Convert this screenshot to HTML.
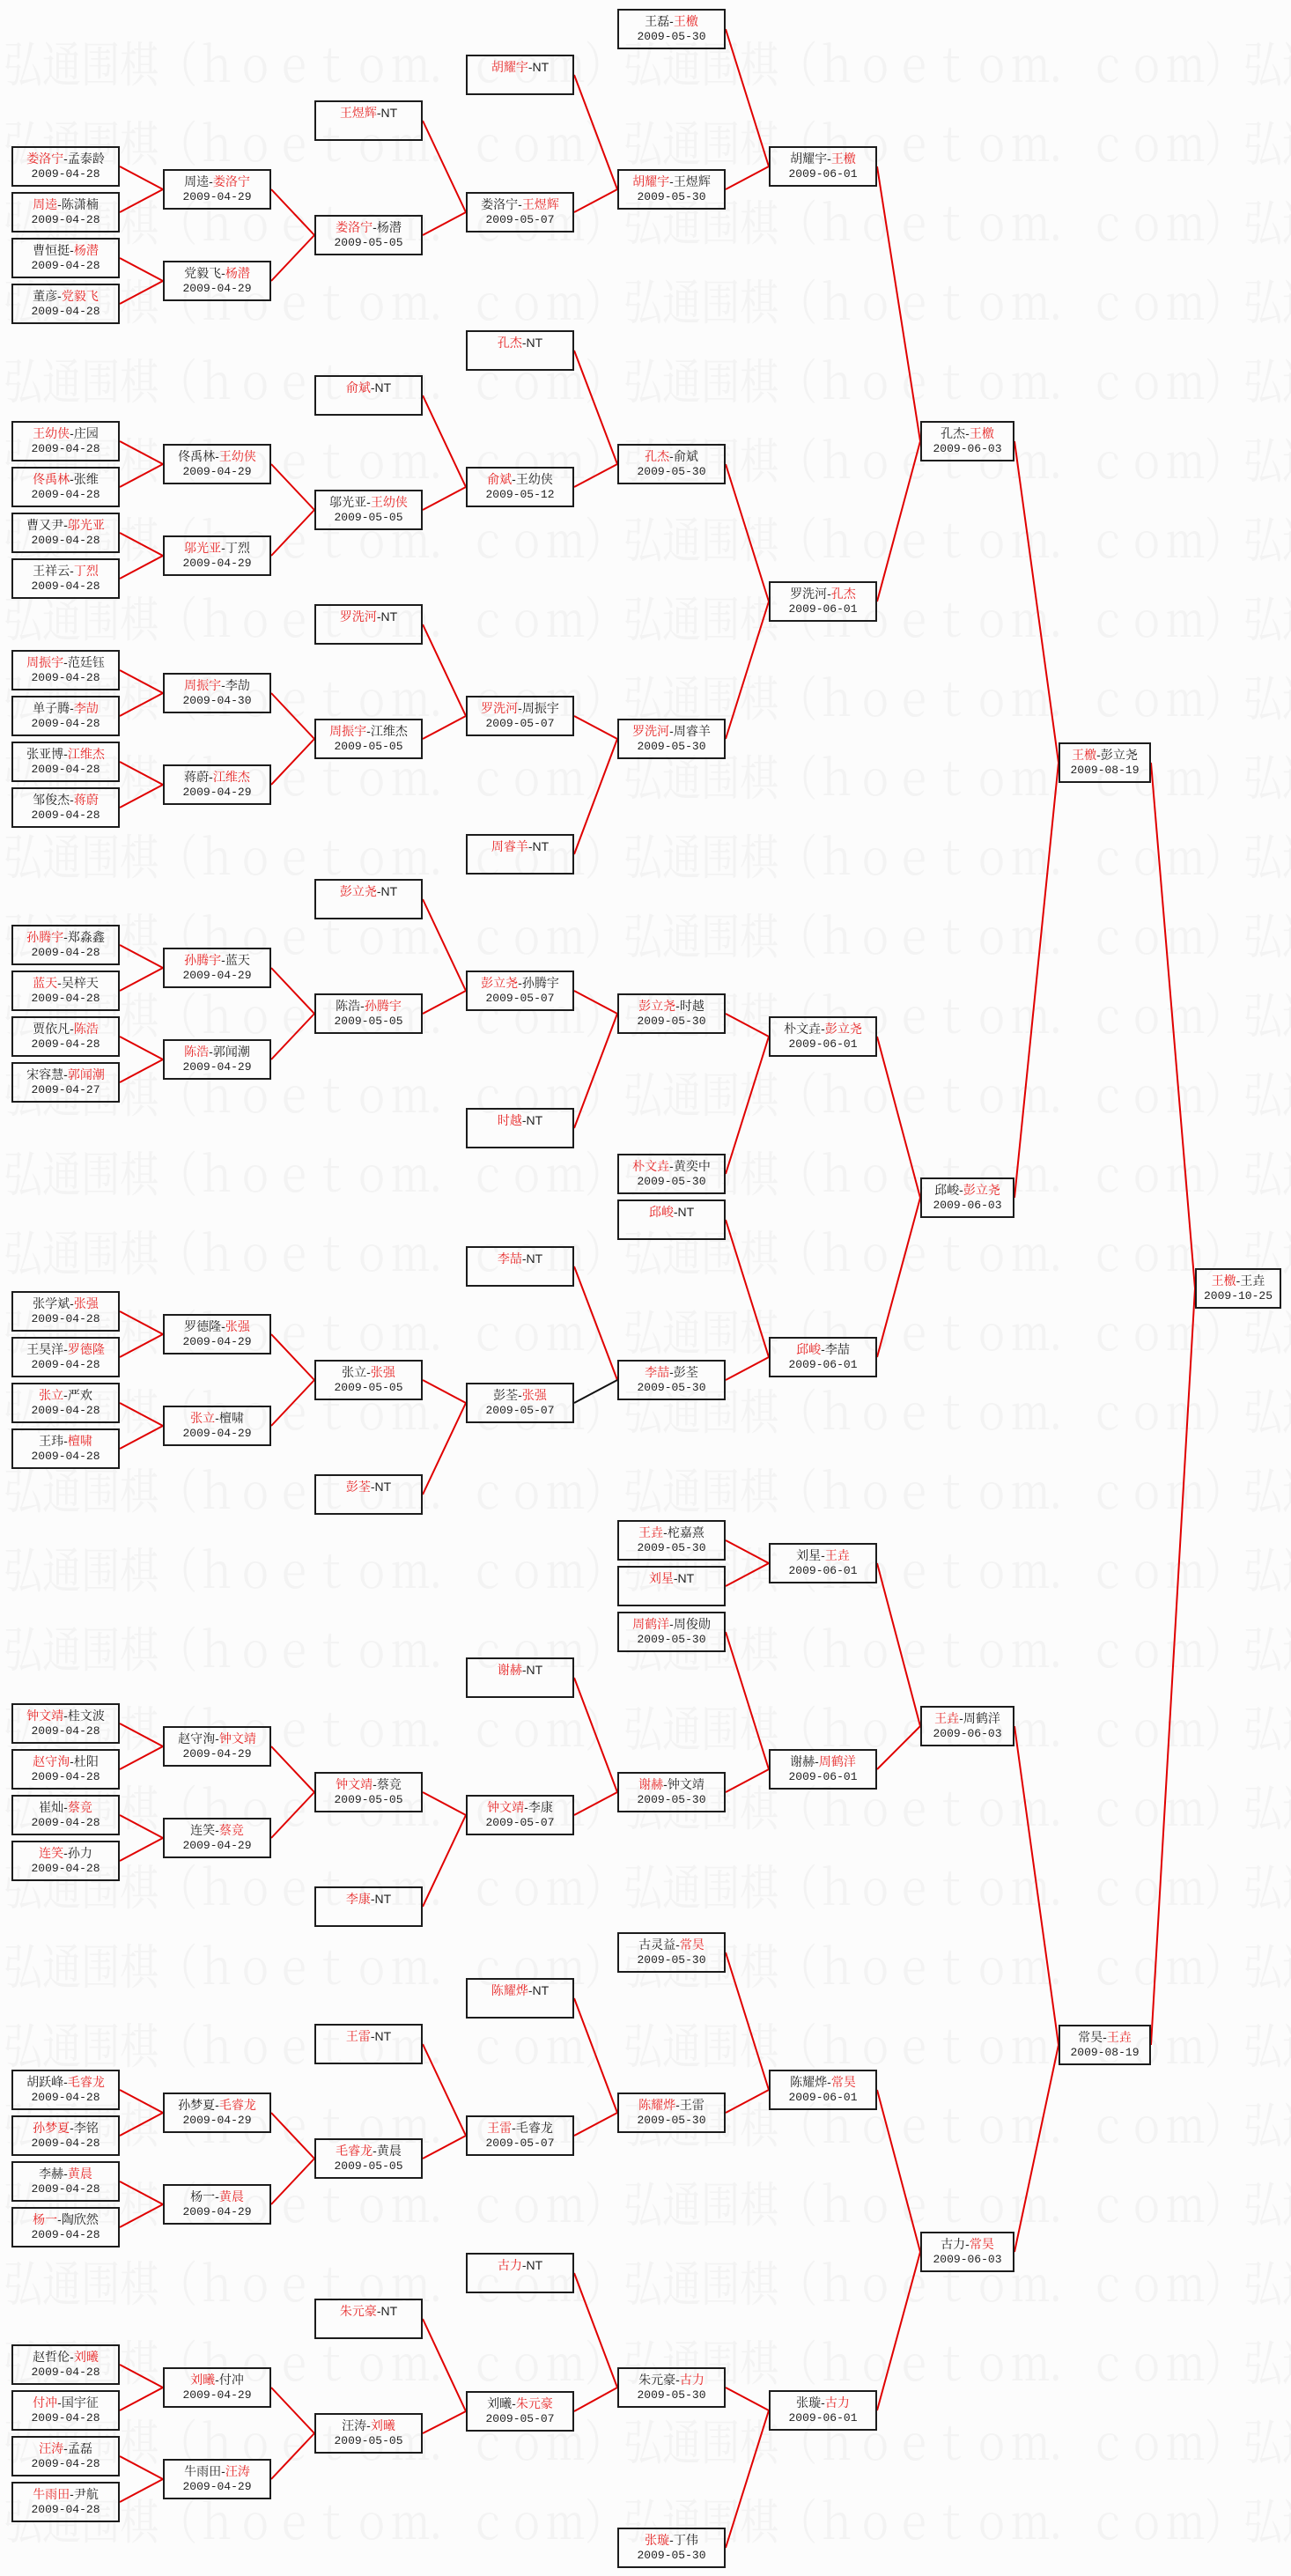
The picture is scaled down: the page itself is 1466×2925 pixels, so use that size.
<!DOCTYPE html>
<html><head><meta charset="utf-8">
<style>
html,body{margin:0;padding:0}
body{width:1466px;height:2925px;position:relative;background:#fcfcfc;overflow:hidden}
.wm{position:absolute;left:4px;white-space:nowrap;font:44px/50px "Noto Serif CJK SC",serif;color:#f3f3f3;transform:scaleY(1.25);transform-origin:0 0;letter-spacing:0px}
.b{position:absolute;width:119px;height:39px;padding-top:3px;border:2px solid #1c1c1c;text-align:center;font:14px/18px "Liberation Sans","Noto Serif CJK SC",serif;color:#222;white-space:nowrap}
.b div{font:13px/18px "Liberation Mono",monospace}
.c7{width:103px}.c8{width:101px}.c9{width:94px}
em{font-style:normal;color:#e62424}
svg{position:absolute;left:0;top:0}
</style></head><body>
<div class="wm" style="top:38px">弘通围棋（ｈｏｅｔｏｍ．ｃｏｍ）弘通围棋（ｈｏｅｔｏｍ．ｃｏｍ）弘通围棋（ｈｏｅｔｏｍ．ｃｏｍ）</div>
<div class="wm" style="top:128px">弘通围棋（ｈｏｅｔｏｍ．ｃｏｍ）弘通围棋（ｈｏｅｔｏｍ．ｃｏｍ）弘通围棋（ｈｏｅｔｏｍ．ｃｏｍ）</div>
<div class="wm" style="top:218px">弘通围棋（ｈｏｅｔｏｍ．ｃｏｍ）弘通围棋（ｈｏｅｔｏｍ．ｃｏｍ）弘通围棋（ｈｏｅｔｏｍ．ｃｏｍ）</div>
<div class="wm" style="top:308px">弘通围棋（ｈｏｅｔｏｍ．ｃｏｍ）弘通围棋（ｈｏｅｔｏｍ．ｃｏｍ）弘通围棋（ｈｏｅｔｏｍ．ｃｏｍ）</div>
<div class="wm" style="top:398px">弘通围棋（ｈｏｅｔｏｍ．ｃｏｍ）弘通围棋（ｈｏｅｔｏｍ．ｃｏｍ）弘通围棋（ｈｏｅｔｏｍ．ｃｏｍ）</div>
<div class="wm" style="top:488px">弘通围棋（ｈｏｅｔｏｍ．ｃｏｍ）弘通围棋（ｈｏｅｔｏｍ．ｃｏｍ）弘通围棋（ｈｏｅｔｏｍ．ｃｏｍ）</div>
<div class="wm" style="top:578px">弘通围棋（ｈｏｅｔｏｍ．ｃｏｍ）弘通围棋（ｈｏｅｔｏｍ．ｃｏｍ）弘通围棋（ｈｏｅｔｏｍ．ｃｏｍ）</div>
<div class="wm" style="top:668px">弘通围棋（ｈｏｅｔｏｍ．ｃｏｍ）弘通围棋（ｈｏｅｔｏｍ．ｃｏｍ）弘通围棋（ｈｏｅｔｏｍ．ｃｏｍ）</div>
<div class="wm" style="top:758px">弘通围棋（ｈｏｅｔｏｍ．ｃｏｍ）弘通围棋（ｈｏｅｔｏｍ．ｃｏｍ）弘通围棋（ｈｏｅｔｏｍ．ｃｏｍ）</div>
<div class="wm" style="top:848px">弘通围棋（ｈｏｅｔｏｍ．ｃｏｍ）弘通围棋（ｈｏｅｔｏｍ．ｃｏｍ）弘通围棋（ｈｏｅｔｏｍ．ｃｏｍ）</div>
<div class="wm" style="top:938px">弘通围棋（ｈｏｅｔｏｍ．ｃｏｍ）弘通围棋（ｈｏｅｔｏｍ．ｃｏｍ）弘通围棋（ｈｏｅｔｏｍ．ｃｏｍ）</div>
<div class="wm" style="top:1028px">弘通围棋（ｈｏｅｔｏｍ．ｃｏｍ）弘通围棋（ｈｏｅｔｏｍ．ｃｏｍ）弘通围棋（ｈｏｅｔｏｍ．ｃｏｍ）</div>
<div class="wm" style="top:1118px">弘通围棋（ｈｏｅｔｏｍ．ｃｏｍ）弘通围棋（ｈｏｅｔｏｍ．ｃｏｍ）弘通围棋（ｈｏｅｔｏｍ．ｃｏｍ）</div>
<div class="wm" style="top:1208px">弘通围棋（ｈｏｅｔｏｍ．ｃｏｍ）弘通围棋（ｈｏｅｔｏｍ．ｃｏｍ）弘通围棋（ｈｏｅｔｏｍ．ｃｏｍ）</div>
<div class="wm" style="top:1298px">弘通围棋（ｈｏｅｔｏｍ．ｃｏｍ）弘通围棋（ｈｏｅｔｏｍ．ｃｏｍ）弘通围棋（ｈｏｅｔｏｍ．ｃｏｍ）</div>
<div class="wm" style="top:1388px">弘通围棋（ｈｏｅｔｏｍ．ｃｏｍ）弘通围棋（ｈｏｅｔｏｍ．ｃｏｍ）弘通围棋（ｈｏｅｔｏｍ．ｃｏｍ）</div>
<div class="wm" style="top:1478px">弘通围棋（ｈｏｅｔｏｍ．ｃｏｍ）弘通围棋（ｈｏｅｔｏｍ．ｃｏｍ）弘通围棋（ｈｏｅｔｏｍ．ｃｏｍ）</div>
<div class="wm" style="top:1568px">弘通围棋（ｈｏｅｔｏｍ．ｃｏｍ）弘通围棋（ｈｏｅｔｏｍ．ｃｏｍ）弘通围棋（ｈｏｅｔｏｍ．ｃｏｍ）</div>
<div class="wm" style="top:1658px">弘通围棋（ｈｏｅｔｏｍ．ｃｏｍ）弘通围棋（ｈｏｅｔｏｍ．ｃｏｍ）弘通围棋（ｈｏｅｔｏｍ．ｃｏｍ）</div>
<div class="wm" style="top:1748px">弘通围棋（ｈｏｅｔｏｍ．ｃｏｍ）弘通围棋（ｈｏｅｔｏｍ．ｃｏｍ）弘通围棋（ｈｏｅｔｏｍ．ｃｏｍ）</div>
<div class="wm" style="top:1838px">弘通围棋（ｈｏｅｔｏｍ．ｃｏｍ）弘通围棋（ｈｏｅｔｏｍ．ｃｏｍ）弘通围棋（ｈｏｅｔｏｍ．ｃｏｍ）</div>
<div class="wm" style="top:1928px">弘通围棋（ｈｏｅｔｏｍ．ｃｏｍ）弘通围棋（ｈｏｅｔｏｍ．ｃｏｍ）弘通围棋（ｈｏｅｔｏｍ．ｃｏｍ）</div>
<div class="wm" style="top:2018px">弘通围棋（ｈｏｅｔｏｍ．ｃｏｍ）弘通围棋（ｈｏｅｔｏｍ．ｃｏｍ）弘通围棋（ｈｏｅｔｏｍ．ｃｏｍ）</div>
<div class="wm" style="top:2108px">弘通围棋（ｈｏｅｔｏｍ．ｃｏｍ）弘通围棋（ｈｏｅｔｏｍ．ｃｏｍ）弘通围棋（ｈｏｅｔｏｍ．ｃｏｍ）</div>
<div class="wm" style="top:2198px">弘通围棋（ｈｏｅｔｏｍ．ｃｏｍ）弘通围棋（ｈｏｅｔｏｍ．ｃｏｍ）弘通围棋（ｈｏｅｔｏｍ．ｃｏｍ）</div>
<div class="wm" style="top:2288px">弘通围棋（ｈｏｅｔｏｍ．ｃｏｍ）弘通围棋（ｈｏｅｔｏｍ．ｃｏｍ）弘通围棋（ｈｏｅｔｏｍ．ｃｏｍ）</div>
<div class="wm" style="top:2378px">弘通围棋（ｈｏｅｔｏｍ．ｃｏｍ）弘通围棋（ｈｏｅｔｏｍ．ｃｏｍ）弘通围棋（ｈｏｅｔｏｍ．ｃｏｍ）</div>
<div class="wm" style="top:2468px">弘通围棋（ｈｏｅｔｏｍ．ｃｏｍ）弘通围棋（ｈｏｅｔｏｍ．ｃｏｍ）弘通围棋（ｈｏｅｔｏｍ．ｃｏｍ）</div>
<div class="wm" style="top:2558px">弘通围棋（ｈｏｅｔｏｍ．ｃｏｍ）弘通围棋（ｈｏｅｔｏｍ．ｃｏｍ）弘通围棋（ｈｏｅｔｏｍ．ｃｏｍ）</div>
<div class="wm" style="top:2648px">弘通围棋（ｈｏｅｔｏｍ．ｃｏｍ）弘通围棋（ｈｏｅｔｏｍ．ｃｏｍ）弘通围棋（ｈｏｅｔｏｍ．ｃｏｍ）</div>
<div class="wm" style="top:2738px">弘通围棋（ｈｏｅｔｏｍ．ｃｏｍ）弘通围棋（ｈｏｅｔｏｍ．ｃｏｍ）弘通围棋（ｈｏｅｔｏｍ．ｃｏｍ）</div>
<div class="wm" style="top:2828px">弘通围棋（ｈｏｅｔｏｍ．ｃｏｍ）弘通围棋（ｈｏｅｔｏｍ．ｃｏｍ）弘通围棋（ｈｏｅｔｏｍ．ｃｏｍ）</div>

<svg width="1466" height="2925" viewBox="0 0 1466 2925">
<g stroke="#e00000" stroke-width="2" fill="none">
<path d="M136 189L185 215M136 241L185 215M136 293L185 319M136 345L185 319M308 215L357 267M308 319L357 267"/>
<path d="M136 501L185 527M136 553L185 527M136 605L185 631M136 657L185 631M308 527L357 579M308 631L357 579"/>
<path d="M136 761L185 787M136 813L185 787M136 865L185 891M136 917L185 891M308 787L357 839M308 891L357 839"/>
<path d="M136 1073L185 1099M136 1125L185 1099M136 1177L185 1203M136 1229L185 1203M308 1099L357 1151M308 1203L357 1151"/>
<path d="M136 1489L185 1515M136 1541L185 1515M136 1593L185 1619M136 1645L185 1619M308 1515L357 1567M308 1619L357 1567"/>
<path d="M136 1957L185 1983M136 2009L185 1983M136 2061L185 2087M136 2113L185 2087M308 1983L357 2035M308 2087L357 2035"/>
<path d="M136 2373L185 2399M136 2425L185 2399M136 2477L185 2503M136 2529L185 2503M308 2399L357 2451M308 2503L357 2451"/>
<path d="M136 2685L185 2711M136 2737L185 2711M136 2789L185 2815M136 2841L185 2815M308 2711L357 2763M308 2815L357 2763"/>
<path d="M480 137L529 241M480 267L529 241M480 449L529 553M480 579L529 553M480 709L529 813M480 839L529 813M480 1021L529 1125M480 1151L529 1125M480 1567L529 1593M480 1697L529 1593M480 2035L529 2061M480 2165L529 2061M480 2321L529 2425M480 2451L529 2425M480 2633L529 2738M480 2763L529 2738"/>
<path d="M652 85L701 215M652 241L701 215M652 398L701 527M652 553L701 527M652 813L701 839M652 970L701 839M652 1125L701 1151M652 1281L701 1151M652 1438L701 1567M652 1905L701 2035M652 2061L701 2035M652 2269L701 2399M652 2425L701 2399M652 2581L701 2711M652 2738L701 2711"/>
<path d="M824 33L873 189M824 215L873 189M824 527L873 683M824 839L873 683M824 1151L873 1177M824 1333L873 1177M824 1385L873 1541M824 1567L873 1541M824 1749L873 1775M824 1801L873 1775M824 1853L873 2009M824 2035L873 2009M824 2217L873 2373M824 2399L873 2373M824 2711L873 2737M824 2893L873 2737"/>
<path d="M996 189L1045 501M996 683L1045 501M996 1177L1045 1360M996 1541L1045 1360M996 1775L1045 1960M996 2009L1045 1960M996 2373L1045 2557M996 2737L1045 2557"/>
<path d="M1152 501L1202 866M1152 1360L1202 866M1152 1960L1202 2322M1152 2557L1202 2322M1307 866L1357 1463M1307 2322L1357 1463"/>
</g>
<path d="M652 1593L701 1567" stroke="#111" stroke-width="2" fill="none"/>
</svg>

<div class="b" style="left:13px;top:166px"><em>娄洛宁</em>-孟泰龄<div>2009-04-28</div></div>
<div class="b" style="left:13px;top:218px"><em>周逵</em>-陈潇楠<div>2009-04-28</div></div>
<div class="b" style="left:13px;top:270px">曹恒挺-<em>杨潜</em><div>2009-04-28</div></div>
<div class="b" style="left:13px;top:322px">董彦-<em>党毅飞</em><div>2009-04-28</div></div>
<div class="b" style="left:13px;top:478px"><em>王幼侠</em>-庄园<div>2009-04-28</div></div>
<div class="b" style="left:13px;top:530px"><em>佟禹林</em>-张维<div>2009-04-28</div></div>
<div class="b" style="left:13px;top:582px">曹又尹-<em>邬光亚</em><div>2009-04-28</div></div>
<div class="b" style="left:13px;top:634px">王祥云-<em>丁烈</em><div>2009-04-28</div></div>
<div class="b" style="left:13px;top:738px"><em>周振宇</em>-范廷钰<div>2009-04-28</div></div>
<div class="b" style="left:13px;top:790px">单子腾-<em>李劼</em><div>2009-04-28</div></div>
<div class="b" style="left:13px;top:842px">张亚博-<em>江维杰</em><div>2009-04-28</div></div>
<div class="b" style="left:13px;top:894px">邹俊杰-<em>蒋蔚</em><div>2009-04-28</div></div>
<div class="b" style="left:13px;top:1050px"><em>孙腾宇</em>-郑淼鑫<div>2009-04-28</div></div>
<div class="b" style="left:13px;top:1102px"><em>蓝天</em>-吴梓天<div>2009-04-28</div></div>
<div class="b" style="left:13px;top:1154px">贾依凡-<em>陈浩</em><div>2009-04-28</div></div>
<div class="b" style="left:13px;top:1206px">宋容慧-<em>郭闻潮</em><div>2009-04-27</div></div>
<div class="b" style="left:13px;top:1466px">张学斌-<em>张强</em><div>2009-04-28</div></div>
<div class="b" style="left:13px;top:1518px">王昊洋-<em>罗德隆</em><div>2009-04-28</div></div>
<div class="b" style="left:13px;top:1570px"><em>张立</em>-严欢<div>2009-04-28</div></div>
<div class="b" style="left:13px;top:1622px">王玮-<em>檀啸</em><div>2009-04-28</div></div>
<div class="b" style="left:13px;top:1934px"><em>钟文靖</em>-桂文波<div>2009-04-28</div></div>
<div class="b" style="left:13px;top:1986px"><em>赵守洵</em>-杜阳<div>2009-04-28</div></div>
<div class="b" style="left:13px;top:2038px">崔灿-<em>蔡竞</em><div>2009-04-28</div></div>
<div class="b" style="left:13px;top:2090px"><em>连笑</em>-孙力<div>2009-04-28</div></div>
<div class="b" style="left:13px;top:2350px">胡跃峰-<em>毛睿龙</em><div>2009-04-28</div></div>
<div class="b" style="left:13px;top:2402px"><em>孙梦夏</em>-李铭<div>2009-04-28</div></div>
<div class="b" style="left:13px;top:2454px">李赫-<em>黄晨</em><div>2009-04-28</div></div>
<div class="b" style="left:13px;top:2506px"><em>杨一</em>-陶欣然<div>2009-04-28</div></div>
<div class="b" style="left:13px;top:2662px">赵哲伦-<em>刘曦</em><div>2009-04-28</div></div>
<div class="b" style="left:13px;top:2714px"><em>付冲</em>-国宇征<div>2009-04-28</div></div>
<div class="b" style="left:13px;top:2766px"><em>汪涛</em>-孟磊<div>2009-04-28</div></div>
<div class="b" style="left:13px;top:2818px"><em>牛雨田</em>-尹航<div>2009-04-28</div></div>

<div class="b" style="left:185px;top:192px">周逵-<em>娄洛宁</em><div>2009-04-29</div></div>
<div class="b" style="left:185px;top:296px">党毅飞-<em>杨潜</em><div>2009-04-29</div></div>
<div class="b" style="left:185px;top:504px">佟禹林-<em>王幼侠</em><div>2009-04-29</div></div>
<div class="b" style="left:185px;top:608px"><em>邬光亚</em>-丁烈<div>2009-04-29</div></div>
<div class="b" style="left:185px;top:764px"><em>周振宇</em>-李劼<div>2009-04-30</div></div>
<div class="b" style="left:185px;top:868px">蒋蔚-<em>江维杰</em><div>2009-04-29</div></div>
<div class="b" style="left:185px;top:1076px"><em>孙腾宇</em>-蓝天<div>2009-04-29</div></div>
<div class="b" style="left:185px;top:1180px"><em>陈浩</em>-郭闻潮<div>2009-04-29</div></div>
<div class="b" style="left:185px;top:1492px">罗德隆-<em>张强</em><div>2009-04-29</div></div>
<div class="b" style="left:185px;top:1596px"><em>张立</em>-檀啸<div>2009-04-29</div></div>
<div class="b" style="left:185px;top:1960px">赵守洵-<em>钟文靖</em><div>2009-04-29</div></div>
<div class="b" style="left:185px;top:2064px">连笑-<em>蔡竞</em><div>2009-04-29</div></div>
<div class="b" style="left:185px;top:2376px">孙梦夏-<em>毛睿龙</em><div>2009-04-29</div></div>
<div class="b" style="left:185px;top:2480px">杨一-<em>黄晨</em><div>2009-04-29</div></div>
<div class="b" style="left:185px;top:2688px"><em>刘曦</em>-付冲<div>2009-04-29</div></div>
<div class="b" style="left:185px;top:2792px">牛雨田-<em>汪涛</em><div>2009-04-29</div></div>

<div class="b" style="left:357px;top:114px"><em>王煜辉</em>-NT</div>
<div class="b" style="left:357px;top:244px"><em>娄洛宁</em>-杨潜<div>2009-05-05</div></div>
<div class="b" style="left:357px;top:426px"><em>俞斌</em>-NT</div>
<div class="b" style="left:357px;top:556px">邬光亚-<em>王幼侠</em><div>2009-05-05</div></div>
<div class="b" style="left:357px;top:686px"><em>罗洗河</em>-NT</div>
<div class="b" style="left:357px;top:816px"><em>周振宇</em>-江维杰<div>2009-05-05</div></div>
<div class="b" style="left:357px;top:998px"><em>彭立尧</em>-NT</div>
<div class="b" style="left:357px;top:1128px">陈浩-<em>孙腾宇</em><div>2009-05-05</div></div>
<div class="b" style="left:357px;top:1544px">张立-<em>张强</em><div>2009-05-05</div></div>
<div class="b" style="left:357px;top:1674px"><em>彭荃</em>-NT</div>
<div class="b" style="left:357px;top:2012px"><em>钟文靖</em>-蔡竞<div>2009-05-05</div></div>
<div class="b" style="left:357px;top:2142px"><em>李康</em>-NT</div>
<div class="b" style="left:357px;top:2298px"><em>王雷</em>-NT</div>
<div class="b" style="left:357px;top:2428px"><em>毛睿龙</em>-黄晨<div>2009-05-05</div></div>
<div class="b" style="left:357px;top:2610px"><em>朱元豪</em>-NT</div>
<div class="b" style="left:357px;top:2740px">汪涛-<em>刘曦</em><div>2009-05-05</div></div>

<div class="b" style="left:529px;top:62px"><em>胡耀宇</em>-NT</div>
<div class="b" style="left:529px;top:218px">娄洛宁-<em>王煜辉</em><div>2009-05-07</div></div>
<div class="b" style="left:529px;top:375px"><em>孔杰</em>-NT</div>
<div class="b" style="left:529px;top:530px"><em>俞斌</em>-王幼侠<div>2009-05-12</div></div>
<div class="b" style="left:529px;top:790px"><em>罗洗河</em>-周振宇<div>2009-05-07</div></div>
<div class="b" style="left:529px;top:947px"><em>周睿羊</em>-NT</div>
<div class="b" style="left:529px;top:1102px"><em>彭立尧</em>-孙腾宇<div>2009-05-07</div></div>
<div class="b" style="left:529px;top:1258px"><em>时越</em>-NT</div>
<div class="b" style="left:529px;top:1415px"><em>李喆</em>-NT</div>
<div class="b" style="left:529px;top:1570px">彭荃-<em>张强</em><div>2009-05-07</div></div>
<div class="b" style="left:529px;top:1882px"><em>谢赫</em>-NT</div>
<div class="b" style="left:529px;top:2038px"><em>钟文靖</em>-李康<div>2009-05-07</div></div>
<div class="b" style="left:529px;top:2246px"><em>陈耀烨</em>-NT</div>
<div class="b" style="left:529px;top:2402px"><em>王雷</em>-毛睿龙<div>2009-05-07</div></div>
<div class="b" style="left:529px;top:2558px"><em>古力</em>-NT</div>
<div class="b" style="left:529px;top:2715px">刘曦-<em>朱元豪</em><div>2009-05-07</div></div>

<div class="b" style="left:701px;top:10px">王磊-<em>王檄</em><div>2009-05-30</div></div>
<div class="b" style="left:701px;top:192px"><em>胡耀宇</em>-王煜辉<div>2009-05-30</div></div>
<div class="b" style="left:701px;top:504px"><em>孔杰</em>-俞斌<div>2009-05-30</div></div>
<div class="b" style="left:701px;top:816px"><em>罗洗河</em>-周睿羊<div>2009-05-30</div></div>
<div class="b" style="left:701px;top:1128px"><em>彭立尧</em>-时越<div>2009-05-30</div></div>
<div class="b" style="left:701px;top:1310px"><em>朴文垚</em>-黄奕中<div>2009-05-30</div></div>
<div class="b" style="left:701px;top:1362px"><em>邱峻</em>-NT</div>
<div class="b" style="left:701px;top:1544px"><em>李喆</em>-彭荃<div>2009-05-30</div></div>
<div class="b" style="left:701px;top:1726px"><em>王垚</em>-柁嘉熹<div>2009-05-30</div></div>
<div class="b" style="left:701px;top:1778px"><em>刘星</em>-NT</div>
<div class="b" style="left:701px;top:1830px"><em>周鹤洋</em>-周俊勋<div>2009-05-30</div></div>
<div class="b" style="left:701px;top:2012px"><em>谢赫</em>-钟文靖<div>2009-05-30</div></div>
<div class="b" style="left:701px;top:2194px">古灵益-<em>常昊</em><div>2009-05-30</div></div>
<div class="b" style="left:701px;top:2376px"><em>陈耀烨</em>-王雷<div>2009-05-30</div></div>
<div class="b" style="left:701px;top:2688px">朱元豪-<em>古力</em><div>2009-05-30</div></div>
<div class="b" style="left:701px;top:2870px"><em>张璇</em>-丁伟<div>2009-05-30</div></div>

<div class="b" style="left:873px;top:166px">胡耀宇-<em>王檄</em><div>2009-06-01</div></div>
<div class="b" style="left:873px;top:660px">罗洗河-<em>孔杰</em><div>2009-06-01</div></div>
<div class="b" style="left:873px;top:1154px">朴文垚-<em>彭立尧</em><div>2009-06-01</div></div>
<div class="b" style="left:873px;top:1518px"><em>邱峻</em>-李喆<div>2009-06-01</div></div>
<div class="b" style="left:873px;top:1752px">刘星-<em>王垚</em><div>2009-06-01</div></div>
<div class="b" style="left:873px;top:1986px">谢赫-<em>周鹤洋</em><div>2009-06-01</div></div>
<div class="b" style="left:873px;top:2350px">陈耀烨-<em>常昊</em><div>2009-06-01</div></div>
<div class="b" style="left:873px;top:2714px">张璇-<em>古力</em><div>2009-06-01</div></div>

<div class="b c7" style="left:1045px;top:478px">孔杰-<em>王檄</em><div>2009-06-03</div></div>
<div class="b c7" style="left:1045px;top:1337px">邱峻-<em>彭立尧</em><div>2009-06-03</div></div>
<div class="b c7" style="left:1045px;top:1937px"><em>王垚</em>-周鹤洋<div>2009-06-03</div></div>
<div class="b c7" style="left:1045px;top:2534px">古力-<em>常昊</em><div>2009-06-03</div></div>

<div class="b c8" style="left:1202px;top:843px"><em>王檄</em>-彭立尧<div>2009-08-19</div></div>
<div class="b c8" style="left:1202px;top:2299px">常昊-<em>王垚</em><div>2009-08-19</div></div>

<div class="b c9" style="left:1357px;top:1440px"><em>王檄</em>-王垚<div>2009-10-25</div></div>
</body></html>
